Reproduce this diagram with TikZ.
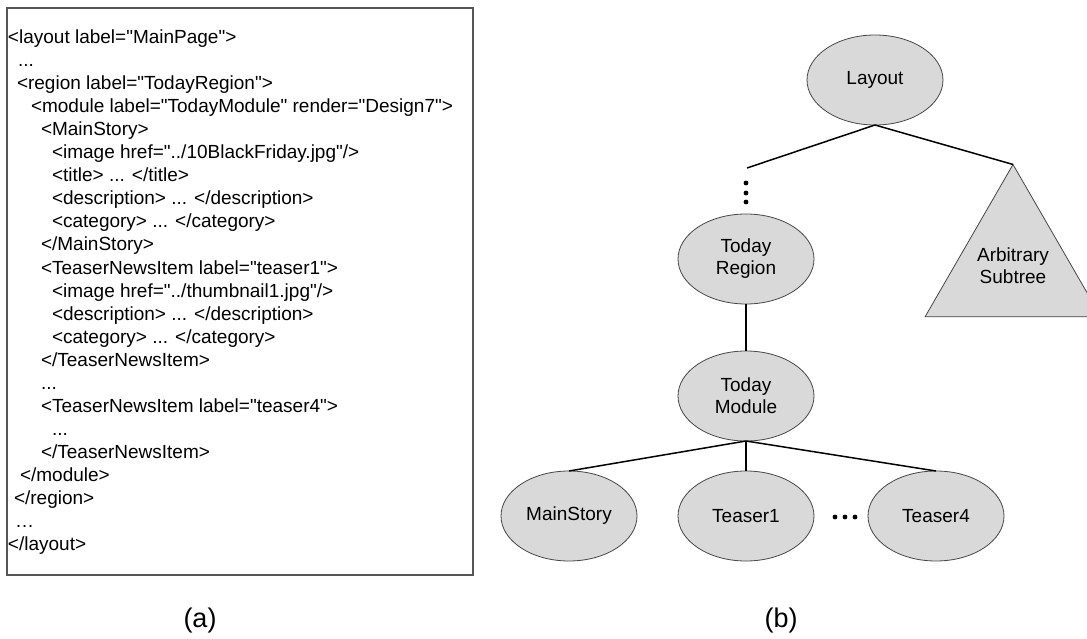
\documentclass[tikz,border=0pt]{standalone}
\usepackage{fontspec}
\setmainfont{Liberation Sans}[Ligatures=TeXOff]
\usetikzlibrary{shapes.geometric}
\definecolor{nodefill}{RGB}{217,217,217}
\definecolor{nodeedge}{RGB}{70,70,70}
\definecolor{boxedge}{RGB}{85,85,85}
\tikzset{
  codeline/.style={anchor=base west, inner sep=0pt, outer sep=0pt,
    font=\fontsize{19}{23}\selectfont},
  treenode/.style={ellipse, draw=nodeedge, line width=0.8pt, fill=nodefill,
    minimum width=136pt, minimum height=90pt, inner sep=0pt, outer sep=0pt,
    align=center, font=\fontsize{19}{22}\selectfont},
  subtree/.style={regular polygon, regular polygon sides=3, draw=nodeedge,
    line width=0.8pt, fill=nodefill, minimum size=191.6pt, inner sep=0pt,
    outer sep=0pt, align=center, font=\fontsize{19}{22}\selectfont},
  edge/.style={draw=black, line width=1.5pt},
  caption/.style={font=\fontsize{27}{30}\selectfont, inner sep=0pt},
  vdot/.style={fill=black}
}
\begin{document}
\begin{tikzpicture}[x=1pt,y=-1pt]
\useasboundingbox (0,0) rectangle (1087,639);
\clip (0,0) rectangle (1087,639);

% ---------- (a) XML listing ----------
\draw[boxedge, line width=1.4pt] (7,8) rectangle (473,575);
\node[codeline] (c1)  at (8,44)   {<layout label="MainPage">};
\node[codeline] (c2)  at (18,67)  {...};
\node[codeline] (c3)  at (17,90)  {<region label="TodayRegion">};
\node[codeline] (c4)  at (31,113) {<module label="TodayModule" render="Design7">};
\node[codeline] (c5)  at (41,136) {<MainStory>};
\node[codeline] (c6)  at (52,159) {<image href="../10BlackFriday.jpg"/>};
\node[codeline] (c7)  at (52,182) {<title> ... </title>};
\node[codeline] (c8)  at (52,205) {<description> ... </description>};
\node[codeline] (c9)  at (52,228) {<category> ... </category>};
\node[codeline] (c10) at (41,251) {</MainStory>};
\node[codeline] (c11) at (41,274) {<TeaserNewsItem label="teaser1">};
\node[codeline] (c12) at (52,297) {<image href="../thumbnail1.jpg"/>};
\node[codeline] (c13) at (52,320) {<description> ... </description>};
\node[codeline] (c14) at (52,343) {<category> ... </category>};
\node[codeline] (c15) at (41,366) {</TeaserNewsItem>};
\node[codeline] (c16) at (41,389) {...};
\node[codeline] (c17) at (41,412) {<TeaserNewsItem label="teaser4">};
\node[codeline] (c18) at (52,435) {...};
\node[codeline] (c19) at (41,458) {</TeaserNewsItem>};
\node[codeline] (c20) at (20,481) {</module>};
\node[codeline] (c21) at (14,504) {</region>};
\node[codeline] (c22) at (15,527) {…};
\node[codeline] (c23) at (8,550)  {</layout>};

\node[caption] (capa) at (200,621) {(a)};

% ---------- (b) tree ----------
\node[treenode] (layout)  at (875,80)  {Layout};
\node[treenode] (region)  at (746,259) {Today\\Region};
\node[treenode] (module)  at (746,396) {Today\\Module};
\node[treenode] (main)    at (569,516) {MainStory};
\node[treenode] (teaserA) at (746,516) {Teaser1};
\node[treenode] (teaserD) at (936,516) {Teaser4};
\node[subtree]  (arb)     at (1013,266) {Arbitrary\\Subtree};

\coordinate (gap) at (747,168);
\draw[edge] (layout.south) -- (gap);
\draw[edge] (layout.south) -- (arb.corner 1);
\draw[edge] (region.south) -- (module.north);
\draw[edge] (module.south) -- (main.north);
\draw[edge] (module.south) -- (teaserA.north);
\draw[edge] (module.south) -- (teaserD.north);

% elided levels and siblings
\foreach \yy in {183,193,202} \fill[vdot] (746,\yy) circle (2.4pt);
\foreach \xx in {835,845,855} \fill[vdot] (\xx,517) circle (2.4pt);

\node[caption] (capb) at (781,621) {(b)};
\end{tikzpicture}
\end{document}
